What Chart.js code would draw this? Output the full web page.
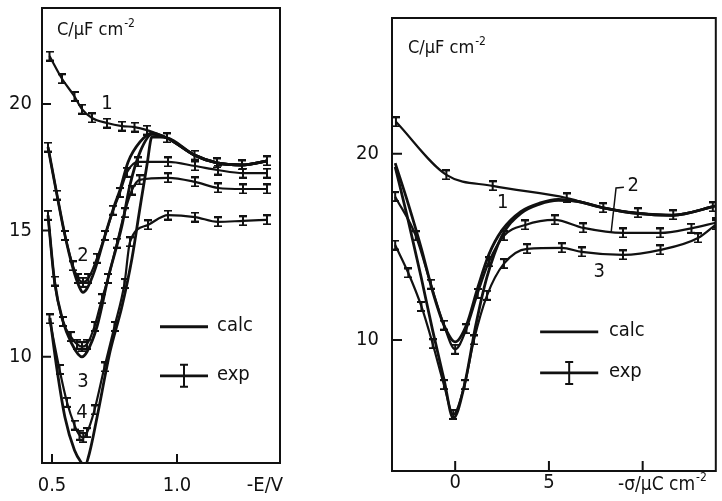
<!DOCTYPE html>
<html lang="en">
<head>
<meta charset="UTF-8">
<title>Capacitance curves</title>
<script src="https://cdn.jsdelivr.net/npm/chart.js@4.4.0/dist/chart.umd.min.js"></script>
<style>
  body { margin: 0; background: #fff; }
  .wrap { position: relative; width: 722px; height: 501px; overflow: hidden; }
  canvas { position: absolute; top: 0; }
  #leftChart { left: 0; }
  #rightChart { left: 340px; }
</style>
</head>
<body>
<div class="wrap">
  <canvas id="leftChart" width="300" height="501"></canvas>
  <canvas id="rightChart" width="382" height="501"></canvas>
</div>
<script>
// ---- left panel: C vs -E/V ----
const leftXTicks = [0.5, 1.0];
const leftXLabels = ['0.5', '1.0'];
const leftYTicks = [10, 15, 20];

const leftExpE1 = [0.49, 0.54, 0.59, 0.62, 0.66, 0.72, 0.78, 0.83, 0.88, 0.96, 1.07, 1.16, 1.26, 1.36];
const leftExpC1 = [21.9, 21.0, 20.3, 19.8, 19.45, 19.25, 19.13, 19.09, 18.97, 18.66, 17.98, 17.67, 17.59, 17.75];

const leftExpE2 = [0.484, 0.52, 0.552, 0.584, 0.605, 0.624, 0.645, 0.68, 0.712, 0.745, 0.772, 0.80, 0.844, 0.964, 1.072, 1.164, 1.264, 1.36];
const leftExpC2 = [18.3, 16.4, 14.8, 13.6, 13.1, 12.95, 13.1, 13.9, 14.8, 15.8, 16.5, 17.3, 17.71, 17.71, 17.55, 17.39, 17.27, 17.27];

const leftExpE3 = [0.484, 0.51, 0.544, 0.575, 0.6, 0.62, 0.64, 0.67, 0.70, 0.724, 0.76, 0.79, 0.82, 0.85, 0.964, 1.072, 1.164, 1.264, 1.36];
const leftExpC3 = [15.6, 13.0, 11.4, 10.8, 10.5, 10.4, 10.5, 11.2, 12.3, 13.1, 14.5, 15.7, 16.6, 17.0, 17.08, 16.92, 16.68, 16.64, 16.64];

const leftExpE4 = [0.49, 0.53, 0.56, 0.59, 0.61, 0.625, 0.64, 0.67, 0.71, 0.75, 0.79, 0.812, 0.884, 0.964, 1.072, 1.164, 1.264, 1.36];
const leftExpC4 = [11.5, 9.5, 8.2, 7.3, 6.9, 6.8, 7.0, 7.9, 9.6, 11.2, 12.9, 14.55, 15.22, 15.61, 15.53, 15.34, 15.38, 15.42];

const leftCalcE2 = [0.484, 0.52, 0.552, 0.584, 0.61, 0.624, 0.64, 0.67, 0.712, 0.75, 0.772, 0.804, 0.852, 0.9, 0.96, 1.07, 1.16, 1.26, 1.36];
const leftCalcC2 = [18.3, 16.4, 14.8, 13.5, 12.75, 12.55, 12.7, 13.4, 14.8, 16.0, 16.6, 17.7, 18.5, 18.85, 18.66, 17.98, 17.67, 17.59, 17.75];

const leftCalcE3 = [0.484, 0.51, 0.544, 0.58, 0.605, 0.62, 0.64, 0.68, 0.724, 0.78, 0.812, 0.852, 0.9, 0.96, 1.07, 1.16, 1.26, 1.36];
const leftCalcC3 = [15.6, 13.0, 11.4, 10.5, 10.1, 10.0, 10.2, 11.2, 13.1, 15.2, 16.8, 18.1, 18.8, 18.66, 17.98, 17.67, 17.59, 17.75];

const leftCalcE4 = [0.492, 0.52, 0.552, 0.59, 0.615, 0.632, 0.65, 0.68, 0.732, 0.78, 0.82, 0.852, 0.88, 0.9, 0.96, 1.07, 1.16, 1.26, 1.36];
const leftCalcC4 = [11.54, 9.5, 7.6, 6.3, 5.85, 5.7, 6.2, 7.6, 10.2, 12.0, 13.9, 15.9, 17.6, 18.7, 18.66, 17.98, 17.67, 17.59, 17.75];

// ---- right panel: C vs -sigma ----
const rightXTicks = [0, 5, 10];
const rightXLabels = ['0', '5', ''];
const rightYTicks = [10, 20];

const rightExpS1 = [-3.16, -0.47, 2.0, 5.95, 7.9, 9.74, 11.63, 13.74];
const rightExpC1 = [21.72, 18.87, 18.28, 17.63, 17.1, 16.83, 16.72, 17.15];

const rightExpS2 = [-3.2, -2.1, -1.3, -0.6, 0, 0.6, 1.2, 1.8, 2.6, 3.74, 5.3, 6.84, 8.95, 10.95, 12.6, 13.9];
const rightExpC2 = [17.7, 15.6, 13.0, 10.8, 9.5, 10.6, 12.5, 14.2, 15.6, 16.18, 16.45, 16.02, 15.75, 15.75, 16.0, 16.3];

const rightExpS3 = [-3.2, -2.5, -1.8, -1.2, -0.6, -0.1, 0.5, 1.0, 1.7, 2.6, 3.84, 5.68, 6.74, 8.95, 10.95, 12.95, 13.9];
const rightExpC3 = [15.1, 13.6, 11.8, 9.8, 7.6, 6.0, 7.6, 10.0, 12.4, 14.1, 14.9, 14.95, 14.73, 14.57, 14.84, 15.48, 16.2];

const rightCalcS2 = [-3.2, -2.5, -1.8, -1.2, -0.6, 0, 0.6, 1.2, 1.8, 2.5, 3.5, 4.5, 5.5, 6.5, 7.9, 9.7, 11.6, 13.9];
const rightCalcC2 = [19.5, 17.3, 14.9, 12.6, 10.8, 9.9, 10.8, 12.8, 14.6, 15.9, 16.9, 17.35, 17.55, 17.45, 17.1, 16.8, 16.7, 17.2];

const rightCalcS3 = [-3.2, -2.5, -1.8, -1.2, -0.6, -0.1, 0.5, 1.1, 1.7, 2.5, 3.5, 4.5, 5.5, 6.5, 7.9, 9.7, 11.6, 13.9];
const rightCalcC3 = [19.3, 16.4, 13.3, 10.5, 7.9, 5.8, 7.6, 10.8, 13.4, 15.6, 16.8, 17.3, 17.5, 17.45, 17.1, 16.8, 16.7, 17.2];

const INK = '#111';
const FONT = "'Liberation Sans Narrow', 'DejaVu Sans Condensed', 'DejaVu Sans', sans-serif";

function pts(xs, ys) {
    return xs.map((x, i) => ({ x: x, y: ys[i] }));
}

// I-shaped marker for the experimental points
const bar = document.createElement('canvas');
bar.width = 8; bar.height = 11;
(function () {
    const c = bar.getContext('2d');
    c.fillStyle = INK;
    c.fillRect(3, 0, 2, 11);
    c.fillRect(0, 0, 8, 2);
    c.fillRect(0, 9, 8, 2);
})();

function expSet(data) {
    return {
        data: data, borderColor: INK, borderWidth: 2.2,
        pointStyle: bar, pointRadius: 4, cubicInterpolationMode: 'monotone'
    };
}
function calcSet(data) {
    return {
        data: data, borderColor: INK, borderWidth: 2.8,
        pointRadius: 0, cubicInterpolationMode: 'monotone'
    };
}

function supText(ctx, main, sup, x, y, size) {
    ctx.font = size + 'px ' + FONT;
    ctx.textAlign = 'left';
    ctx.textBaseline = 'alphabetic';
    ctx.fillText(main, x, y);
    const w = ctx.measureText(main).width;
    ctx.font = Math.round(size * 0.65) + 'px ' + FONT;
    ctx.fillText(sup, x + w + 1, y - size * 0.45);
}

// no extra room around the axes: the layout padding sets the plot box
function noPad(s) {
    s.paddingTop = 0; s.paddingBottom = 0;
    s.paddingLeft = 0; s.paddingRight = 0;
}

// frame, inward ticks, curve numbers, legend and axis units
function decor(o) {
    return {
        id: 'decor',
        afterDatasetsDraw(chart) {
            const { ctx, chartArea: a, scales: { x, y } } = chart;
            ctx.save();
            ctx.strokeStyle = INK;
            ctx.fillStyle = INK;
            ctx.lineWidth = 2;
            ctx.strokeRect(a.left, a.top, a.right - a.left, a.bottom - a.top);
            ctx.beginPath();
            y.ticks.forEach(t => {
                const py = y.getPixelForValue(t.value);
                ctx.moveTo(a.left, py); ctx.lineTo(a.left + o.tick, py);
            });
            x.ticks.forEach(t => {
                const px = x.getPixelForValue(t.value);
                ctx.moveTo(px, a.bottom); ctx.lineTo(px, a.bottom - o.tick);
            });
            ctx.stroke();

            // curve numbers
            ctx.font = '20px ' + FONT;
            ctx.textAlign = 'center';
            ctx.textBaseline = 'middle';
            o.labels.forEach(l => ctx.fillText(l.t, x.getPixelForValue(l.x), y.getPixelForValue(l.y)));
            if (o.leader) {
                ctx.lineWidth = 1.5;
                ctx.beginPath();
                o.leader.forEach((p, i) => {
                    const px = x.getPixelForValue(p[0]), py = y.getPixelForValue(p[1]);
                    if (i === 0) ctx.moveTo(px, py); else ctx.lineTo(px, py);
                });
                ctx.stroke();
            }

            // legend
            const lg = o.legend;
            const x1 = x.getPixelForValue(lg.x1), x2 = x.getPixelForValue(lg.x2);
            const yc = y.getPixelForValue(lg.yCalc), ye = y.getPixelForValue(lg.yExp);
            const tx = x.getPixelForValue(lg.tx);
            ctx.lineWidth = 2.8;
            ctx.beginPath();
            ctx.moveTo(x1, yc); ctx.lineTo(x2, yc);
            ctx.moveTo(x1, ye); ctx.lineTo(x2, ye);
            ctx.stroke();
            const bx = (x1 + x2) / 2;
            ctx.lineWidth = 2;
            ctx.beginPath();
            ctx.moveTo(bx, ye - 11); ctx.lineTo(bx, ye + 11);
            ctx.moveTo(bx - 4, ye - 11); ctx.lineTo(bx + 4, ye - 11);
            ctx.moveTo(bx - 4, ye + 11); ctx.lineTo(bx + 4, ye + 11);
            ctx.stroke();
            ctx.font = '20px ' + FONT;
            ctx.textAlign = 'left';
            ctx.textBaseline = 'middle';
            ctx.fillText('calc', tx, yc - 1);
            ctx.fillText('exp', tx, ye - 1);

            // axis units
            supText(ctx, 'C/\u03bcF cm', '-2', a.left + o.unitDx, a.top + o.unitDy, 18);
            if (o.xSup) {
                supText(ctx, o.xTitle, o.xSup, a.left + o.xtDx, a.bottom + o.xtDy, 19);
            } else {
                ctx.font = '20px ' + FONT;
                ctx.textAlign = 'right';
                ctx.textBaseline = 'alphabetic';
                ctx.fillText(o.xTitle, a.right + o.xtDx, a.bottom + o.xtDy);
            }
            ctx.restore();
        }
    };
}

function makeChart(id, sets, ax, layoutPad, plugin) {
    return new Chart(document.getElementById(id), {
        type: 'line',
        data: { datasets: sets },
        options: {
            responsive: false,
            animation: false,
            layout: { padding: layoutPad },
            plugins: { legend: { display: false }, tooltip: { enabled: false } },
            scales: {
                x: {
                    type: 'linear', min: ax.xMin, max: ax.xMax,
                    afterBuildTicks: s => { s.ticks = ax.xTicks.map(v => ({ value: v })); },
                    afterFit: s => { s.height = ax.xH; noPad(s); },
                    grid: { display: false }, border: { display: false },
                    ticks: {
                        color: INK, padding: ax.xPad, maxRotation: 0,
                        font: { family: FONT, size: 20 },
                        callback: (v, i) => ax.xLabels[i]
                    }
                },
                y: {
                    min: ax.yMin, max: ax.yMax,
                    afterBuildTicks: s => { s.ticks = ax.yTicks.map(v => ({ value: v })); },
                    afterFit: s => { s.width = ax.yW; noPad(s); },
                    grid: { display: false }, border: { display: false },
                    ticks: { color: INK, padding: ax.yPad, font: { family: FONT, size: 20 } }
                }
            }
        },
        plugins: [plugin]
    });
}

makeChart('leftChart', [
    expSet(pts(leftExpE1, leftExpC1)),
    expSet(pts(leftExpE2, leftExpC2)),
    expSet(pts(leftExpE3, leftExpC3)),
    expSet(pts(leftExpE4, leftExpC4)),
    calcSet(pts(leftCalcE2, leftCalcC2)),
    calcSet(pts(leftCalcE3, leftCalcC3)),
    calcSet(pts(leftCalcE4, leftCalcC4))
], {
    xMin: 0.46, xMax: 1.412, yMin: 5.8, yMax: 23.8,
    xTicks: leftXTicks, xLabels: leftXLabels, yTicks: leftYTicks,
    xH: 38, yW: 42, xPad: 3, yPad: 2
}, { top: 8, right: 20, left: 0, bottom: 0 }, decor({
    tick: 9,
    labels: [{ t: '1', x: 0.72, y: 20.0 }, { t: '2', x: 0.624, y: 14.0 },
             { t: '3', x: 0.624, y: 9.0 }, { t: '4', x: 0.62, y: 7.8 }],
    legend: { x1: 0.932, x2: 1.124, yCalc: 11.19, yExp: 9.25, tx: 1.16 },
    unitDx: 15, unitDy: 27,
    xTitle: '-E/V', xtDx: 3, xtDy: 28
}));

makeChart('rightChart', [
    expSet(pts(rightExpS1, rightExpC1)),
    expSet(pts(rightExpS2, rightExpC2)),
    expSet(pts(rightExpS3, rightExpC3)),
    calcSet(pts(rightCalcS2, rightCalcC2)),
    calcSet(pts(rightCalcS3, rightCalcC3))
], {
    xMin: -3.37, xMax: 13.9, yMin: 2.96, yMax: 27.3,
    xTicks: rightXTicks, xLabels: rightXLabels, yTicks: rightYTicks,
    xH: 30, yW: 52, xPad: -8, yPad: 5
}, { top: 18, right: 1, left: 0, bottom: 0 }, decor({
    tick: 10,
    labels: [{ t: '1', x: 2.53, y: 17.37 }, { t: '3', x: 7.68, y: 13.66 },
             { t: '2', x: 9.5, y: 18.3 }],
    leader: [[8.32, 15.8], [8.58, 18.17], [9.0, 18.2]],
    legend: { x1: 4.53, x2: 7.63, yCalc: 10.43, yExp: 8.23, tx: 8.2 },
    unitDx: 16, unitDy: 35,
    xTitle: '-\u03c3/\u03bcC cm', xSup: '-2', xtDx: 226, xtDy: 19
}));
</script>
</body>
</html>
